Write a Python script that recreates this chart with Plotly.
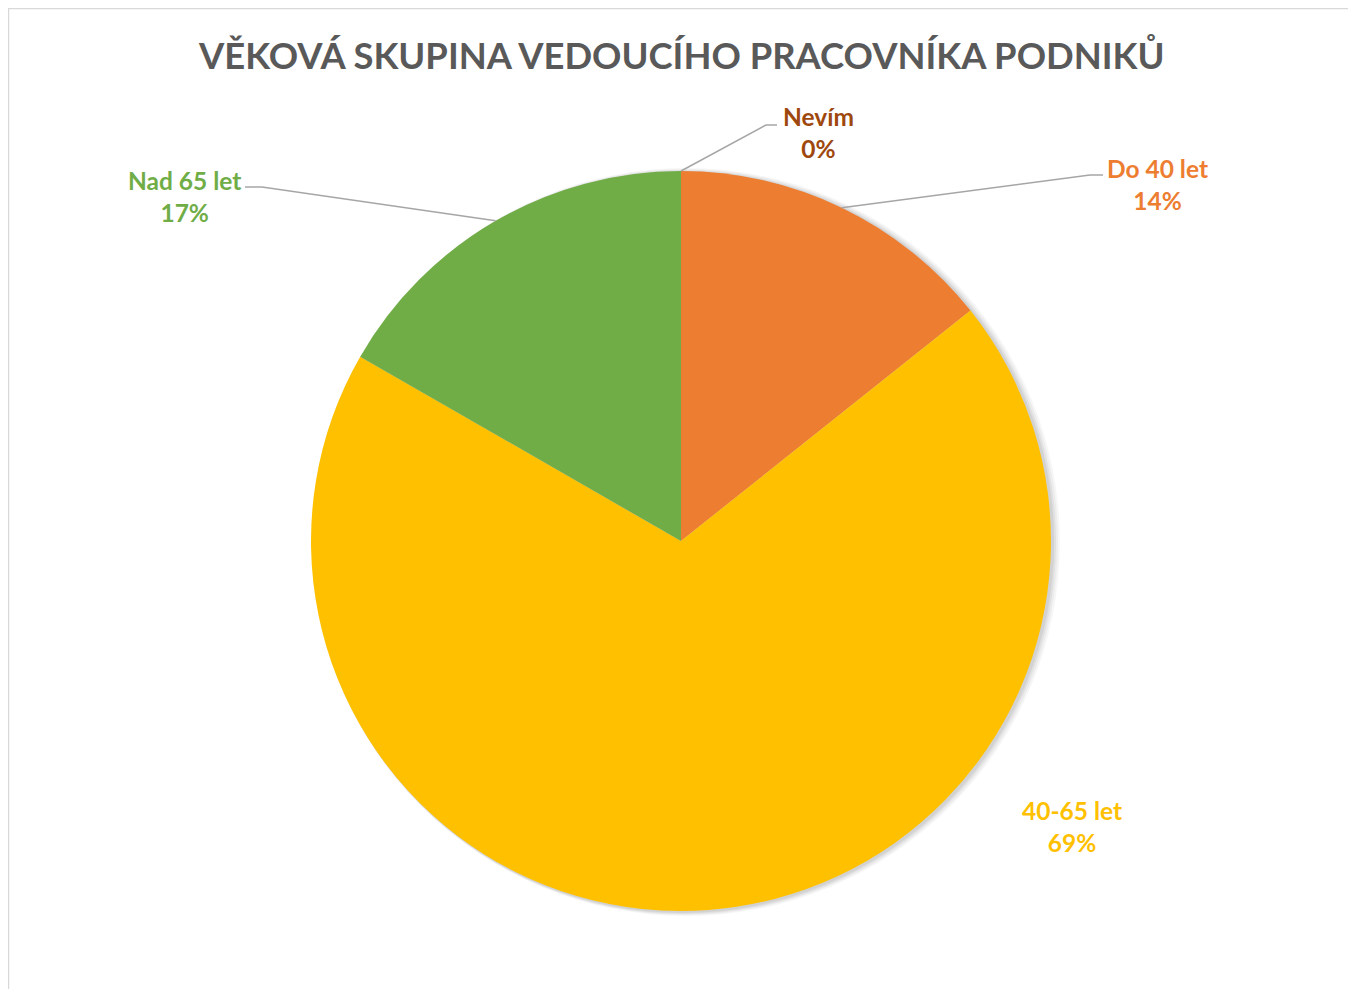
import math
import plotly.graph_objects as go

# ---- data ----
categories = ["Nevím", "Do 40 let", "40-65 let", "Nad 65 let"]
values = [0.0, 14.3, 69.0, 16.7]
colors = ["#9E480E", "#ED7D31", "#FFC000", "#70AD47"]
title_text = "VĚKOVÁ SKUPINA VEDOUCÍHO PRACOVNÍKA PODNIKŮ"

# ---- layout constants (page pixels) ----
OFF = 8                      # default body margin of the html page
W, H = 1356 - OFF, 989 - OFF  # figure size
CX, CY, R = 681, 541, 370
FONT = "Lato"

# label centre positions and leader-line elbow/end points (page pixels, style only)
label_pos = {
    "Nevím": (818, 133),
    "Do 40 let": (1157, 184),
    "40-65 let": (1072, 826),
    "Nad 65 let": (184, 197),
}
leader = {
    "Nevím": [(766, 125), (777, 125)],
    "Do 40 let": [(1090, 175), (1103, 175)],
    "Nad 65 let": [(262, 187), (245, 187)],
}


def px(x):
    return (x - OFF) / W


def py(y):
    return 1 - (y - OFF) / H


def dom(cx, cy, r):
    return dict(x=[px(cx - r), px(cx + r)], y=[py(cy + r), py(cy - r)])


fig = go.Figure()

# soft shadow layers
for k, (dx, dr, a) in enumerate([(5, 4, 0.035), (4, 3, 0.04), (3, 2, 0.05), (2, 1, 0.06)]):
    fig.add_trace(go.Pie(
        values=[sum(values)], labels=["shadow%d" % k], sort=False,
        marker=dict(colors=["rgba(0,0,0,%g)" % a], line=dict(width=0)),
        textinfo="none", hoverinfo="skip", showlegend=False,
        domain=dom(CX + dx, CY + 1, R + dr),
    ))

fig.add_trace(go.Pie(
    labels=categories, values=values, sort=False, direction="clockwise",
    rotation=0, marker=dict(colors=colors, line=dict(width=0)),
    textinfo="none", showlegend=False, domain=dom(CX, CY, R),
))

total = sum(values)
shapes = []
annotations = []
cum = 0.0
for cat, v, col in zip(categories, values, colors):
    mid = (cum + v / 2) / total * 2 * math.pi
    cum += v
    ax = CX + R * math.sin(mid)
    ay = CY - R * math.cos(mid)
    pct = round(v / total * 100)
    lx, ly = label_pos[cat]
    annotations.append(dict(
        x=px(lx), y=py(ly), xref="paper", yref="paper", showarrow=False,
        text="%s<br>%d%%" % (cat, pct), align="center",
        font=dict(family=FONT, size=24.5, color=col, weight=700),
        xanchor="center", yanchor="middle",
    ))
    if cat in leader:
        pts = [(ax, ay)] + leader[cat]
        path = "M " + " L ".join("%f,%f" % (px(x), py(y)) for x, y in pts)
        shapes.append(dict(type="path", path=path, xref="paper", yref="paper",
                           line=dict(color="#A6A6A6", width=1.5)))

annotations.append(dict(
    x=px(681.5), y=py(55), xref="paper", yref="paper", showarrow=False,
    text=title_text, xanchor="center", yanchor="middle",
    font=dict(family=FONT, size=36.4, color="#595959", weight=700),
))

# chart-area border
shapes.append(dict(type="rect", xref="paper", yref="paper",
                   x0=px(8.5), x1=px(1354.5), y0=py(1000), y1=py(8.5),
                   line=dict(color="#D9D9D9", width=1.5)))

fig.update_layout(
    width=W, height=H, margin=dict(l=0, r=0, t=0, b=0),
    paper_bgcolor="white", plot_bgcolor="white",
    shapes=shapes, annotations=annotations, showlegend=False,
)

fig.write_html("out.html")
